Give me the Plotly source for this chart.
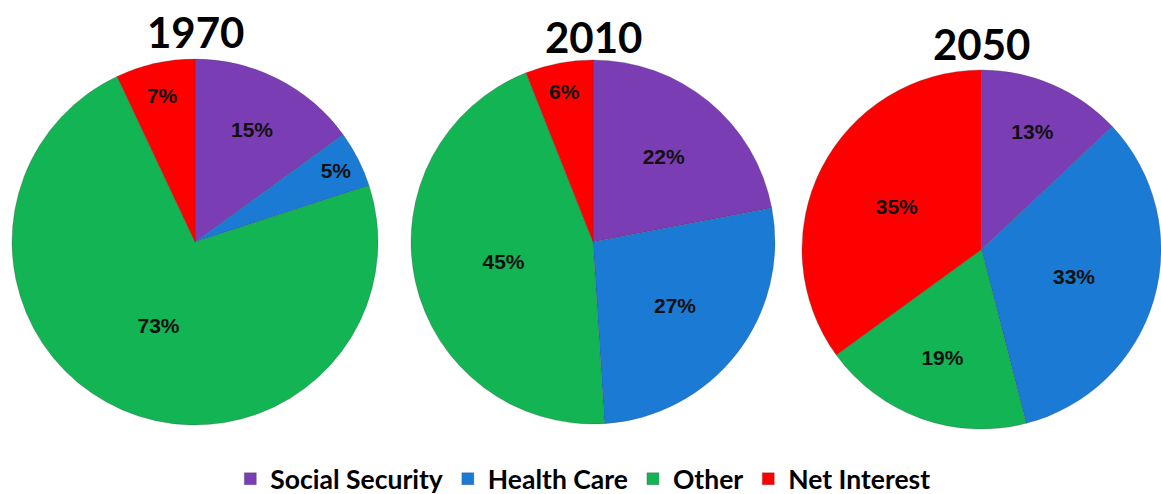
import plotly.graph_objects as go

categories = ["Social Security", "Health Care", "Other", "Net Interest"]
years = ["1970", "2010", "2050"]
values_1970 = [15, 5, 73, 7]
values_2010 = [22, 27, 45, 6]
values_2050 = [13, 33, 19, 35]
series = [values_1970, values_2010, values_2050]

colors = ["#7B3DB3", "#1A7AD4", "#12B453", "#FF0000"]

W, H = 1161, 494
# pie boxes in pixels: (left, right, top, bottom)
boxes = [(12, 378, 59, 425), (411, 775, 60, 424), (802, 1161, 69, 430)]
title_y = [32, 37, 44]

fig = go.Figure()
for yr, vals, (l, r, t, b) in zip(years, series, boxes):
    fig.add_trace(go.Pie(
        labels=categories,
        values=vals,
        sort=False,
        direction="clockwise",
        rotation=0,
        marker=dict(colors=colors, line=dict(color="rgba(60,60,60,0.25)", width=1)),
        textinfo="percent",
        texttemplate="%{value}%",
        textposition="inside",
        insidetextorientation="horizontal",
        textfont=dict(family="Liberation Sans", size=21, color="#111111", weight="bold"),
        hoverinfo="label+percent",
        domain=dict(x=[l / W, r / W], y=[1 - b / H, 1 - t / H]),
        name=yr,
    ))

annotations = []
for yr, (l, r, t, b), ty in zip(years, boxes, title_y):
    annotations.append(dict(
        text=yr, x=(l + r) / 2 / W, y=1 - ty / H, xref="paper", yref="paper",
        xanchor="center", yanchor="middle", showarrow=False,
        font=dict(family="Lato", size=42, color="black", weight="bold"),
    ))

fig.update_layout(
    width=W, height=H,
    margin=dict(l=0, r=0, t=0, b=0, autoexpand=False),
    paper_bgcolor="white",
    plot_bgcolor="white",
    showlegend=True,
    legend=dict(
        orientation="h", x=0.502, xanchor="center",
        y=1 - 479 / H, yanchor="middle", yref="container",
        font=dict(family="Lato", size=26.5, color="black", weight="bold"),
        itemwidth=30, traceorder="normal",
    ),
    uniformtext=dict(minsize=21, mode="show"),
    annotations=annotations,
)

fig.write_html("out.html", config={"displayModeBar": False},
               post_script="document.body.style.margin='0';")
